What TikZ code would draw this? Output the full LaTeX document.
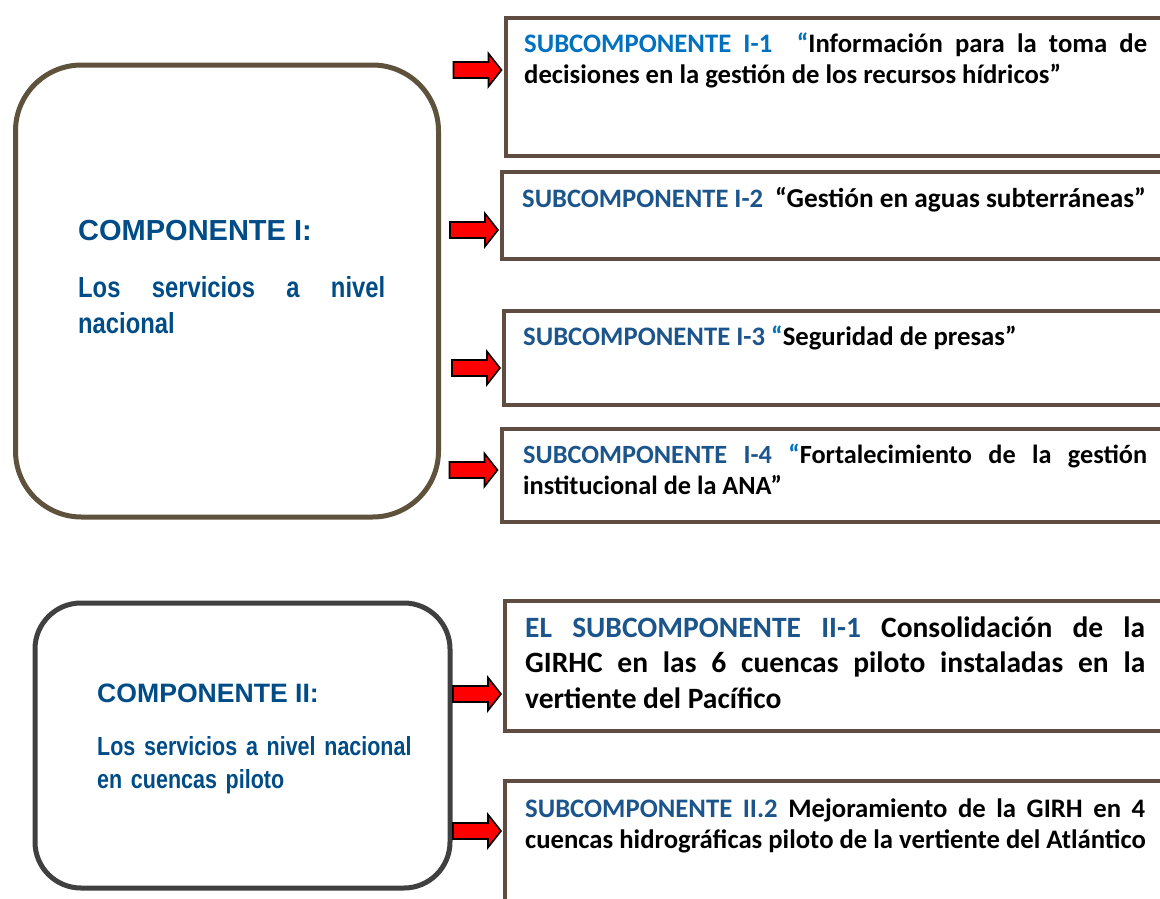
\documentclass[tikz,border=0pt]{standalone}
\usepackage{fontspec}
\setmainfont{Carlito}
\newfontfamily\arialfont{Liberation Sans}
\newfontfamily\narrowfont{Liberation Sans}[FakeStretch=0.82]
\definecolor{darkblue}{RGB}{27,85,140}
\definecolor{compblue}{RGB}{0,76,135}
\definecolor{brightblue}{RGB}{0,112,192}
\definecolor{subbrown}{RGB}{95,77,66}
\definecolor{compIbrown}{RGB}{94,82,60}
\definecolor{compIIgray}{RGB}{64,64,64}
\definecolor{arrowred}{RGB}{255,0,0}
\newcommand\blkarrow[1]{\draw[redarrow] (#1) ++(-2,0) -- ++(-13,-16.5) -- ++(0,8.5) -- ++(-35,0) -- ++(0,16) -- ++(35,0) -- ++(0,8.5) -- cycle;}
\begin{document}
\begin{tikzpicture}[x=1pt,y=-1pt,
  subbox/.style={draw=subbrown, line width=4pt, rectangle, anchor=north west, minimum width=700pt, inner sep=0pt},
  compbox/.style={rectangle, rounded corners=#1, anchor=north west, line width=5pt, inner sep=0pt},
  redarrow/.style={fill=arrowred, draw=black, line width=1.6pt, line join=miter},
  subtext/.style={anchor=base west, inner sep=0pt, align=justify,
    execute at begin node={\hyphenpenalty=10000\exhyphenpenalty=10000\tolerance=10000}},
  comptitle/.style={anchor=base west, inner sep=0pt, text=compblue},
  compbody/.style={anchor=base west, inner sep=0pt, text=compblue}
]
\useasboundingbox (0,0) rectangle (1160,898);
\clip (0,0) rectangle (1160,898);

% component boxes
\node[compbox=66pt, draw=compIbrown, minimum width=423pt, minimum height=452pt] (comp1) at (13,62.5) {};
\node[compbox=46pt, draw=compIIgray, minimum width=415pt, minimum height=285pt] (comp2) at (32.5,600.5) {};

% component texts
\node[comptitle, font={\arialfont\bfseries\fontsize{29}{36}\selectfont}] (c1t) at (78,240) {COMPONENTE I:};
\node[compbody, text width=307pt, align=justify, font={\narrowfont\bfseries\fontsize{29}{36}\selectfont}] (c1b) at (78,297) {Los servicios a nivel\linebreak nacional};
\node[comptitle, font={\arialfont\bfseries\fontsize{26.6}{33}\selectfont}] (c2t) at (97,702) {COMPONENTE II:};
\node[compbody, text width=330pt, align=left, font={\narrowfont\bfseries\fontsize{26.2}{33}\selectfont}] (c2b) at (97,755) {Los servicios a nivel nacional\\en cuencas piloto};

% subcomponent boxes
\node[subbox, minimum height=138pt] (b1) at (503.5,15.5) {};
\node[subbox, minimum height=86.5pt] (b2) at (500,170) {};
\node[subbox, minimum height=94pt] (b3) at (502,308.5) {};
\node[subbox, minimum height=93pt] (b4) at (499.5,426.5) {};
\node[subbox, minimum height=130pt] (b5) at (503,598.5) {};
\node[subbox, minimum height=220pt] (b6) at (503,778.5) {};

% subcomponent texts
\node[subtext, text width=623pt, font={\bfseries\fontsize{26.7}{31}\selectfont}] (s1) at (524,52)
  {\textcolor{brightblue}{SUBCOMPONENTE I-1\ \ “}Información para la toma de\linebreak decisiones en la gestión de los recursos hídricos”};
\node[subtext, font={\bfseries\fontsize{26.6}{31}\selectfont}] (s2) at (522,207)
  {\textcolor{darkblue}{SUBCOMPONENTE I-2}\ \ {\fontsize{27.3}{31}\selectfont “Gestión en aguas subterráneas”}};
\node[subtext, font={\bfseries\fontsize{26.7}{31}\selectfont}] (s3) at (523,345)
  {\textcolor{darkblue}{SUBCOMPONENTE I-3 }\textcolor{brightblue}{“}Seguridad de presas”};
\node[subtext, text width=624pt, font={\bfseries\fontsize{26.3}{31.5}\selectfont}] (s4) at (523,463)
  {\textcolor{darkblue}{SUBCOMPONENTE I-4 }\textcolor{brightblue}{“}Fortalecimiento de la gestión\linebreak institucional de la ANA”};
\node[subtext, text width=620pt, font={\bfseries\fontsize{29.5}{35.5}\selectfont}] (s5) at (525,637)
  {\textcolor{darkblue}{EL SUBCOMPONENTE II-1} Consolidación de la\linebreak GIRHC en las 6 cuencas piloto instaladas en la\linebreak vertiente del Pacífico};
\node[subtext, text width=620pt, font={\bfseries\fontsize{26.7}{31}\selectfont}] (s6) at (525,817)
  {\textcolor{darkblue}{SUBCOMPONENTE II.2} Mejoramiento de la GIRH en 4\linebreak \mbox{cuencas hidrográficas piloto de la vertiente del Atlántico}};

% arrow tips on the boxes' left borders
\coordinate (t1) at (b1.west |- 0,70);
\coordinate (t2) at (b2.west |- 0,230);
\coordinate (t3) at (b3.west |- 0,368);
\coordinate (t4) at (b4.west |- 0,470);
\coordinate (t5) at (b5.west |- 0,694);
\coordinate (t6) at (b6.west |- 0,831);
\blkarrow{t1}
\blkarrow{t2}
\blkarrow{t3}
\blkarrow{t4}
\blkarrow{t5}
\blkarrow{t6}
\end{tikzpicture}
\end{document}
